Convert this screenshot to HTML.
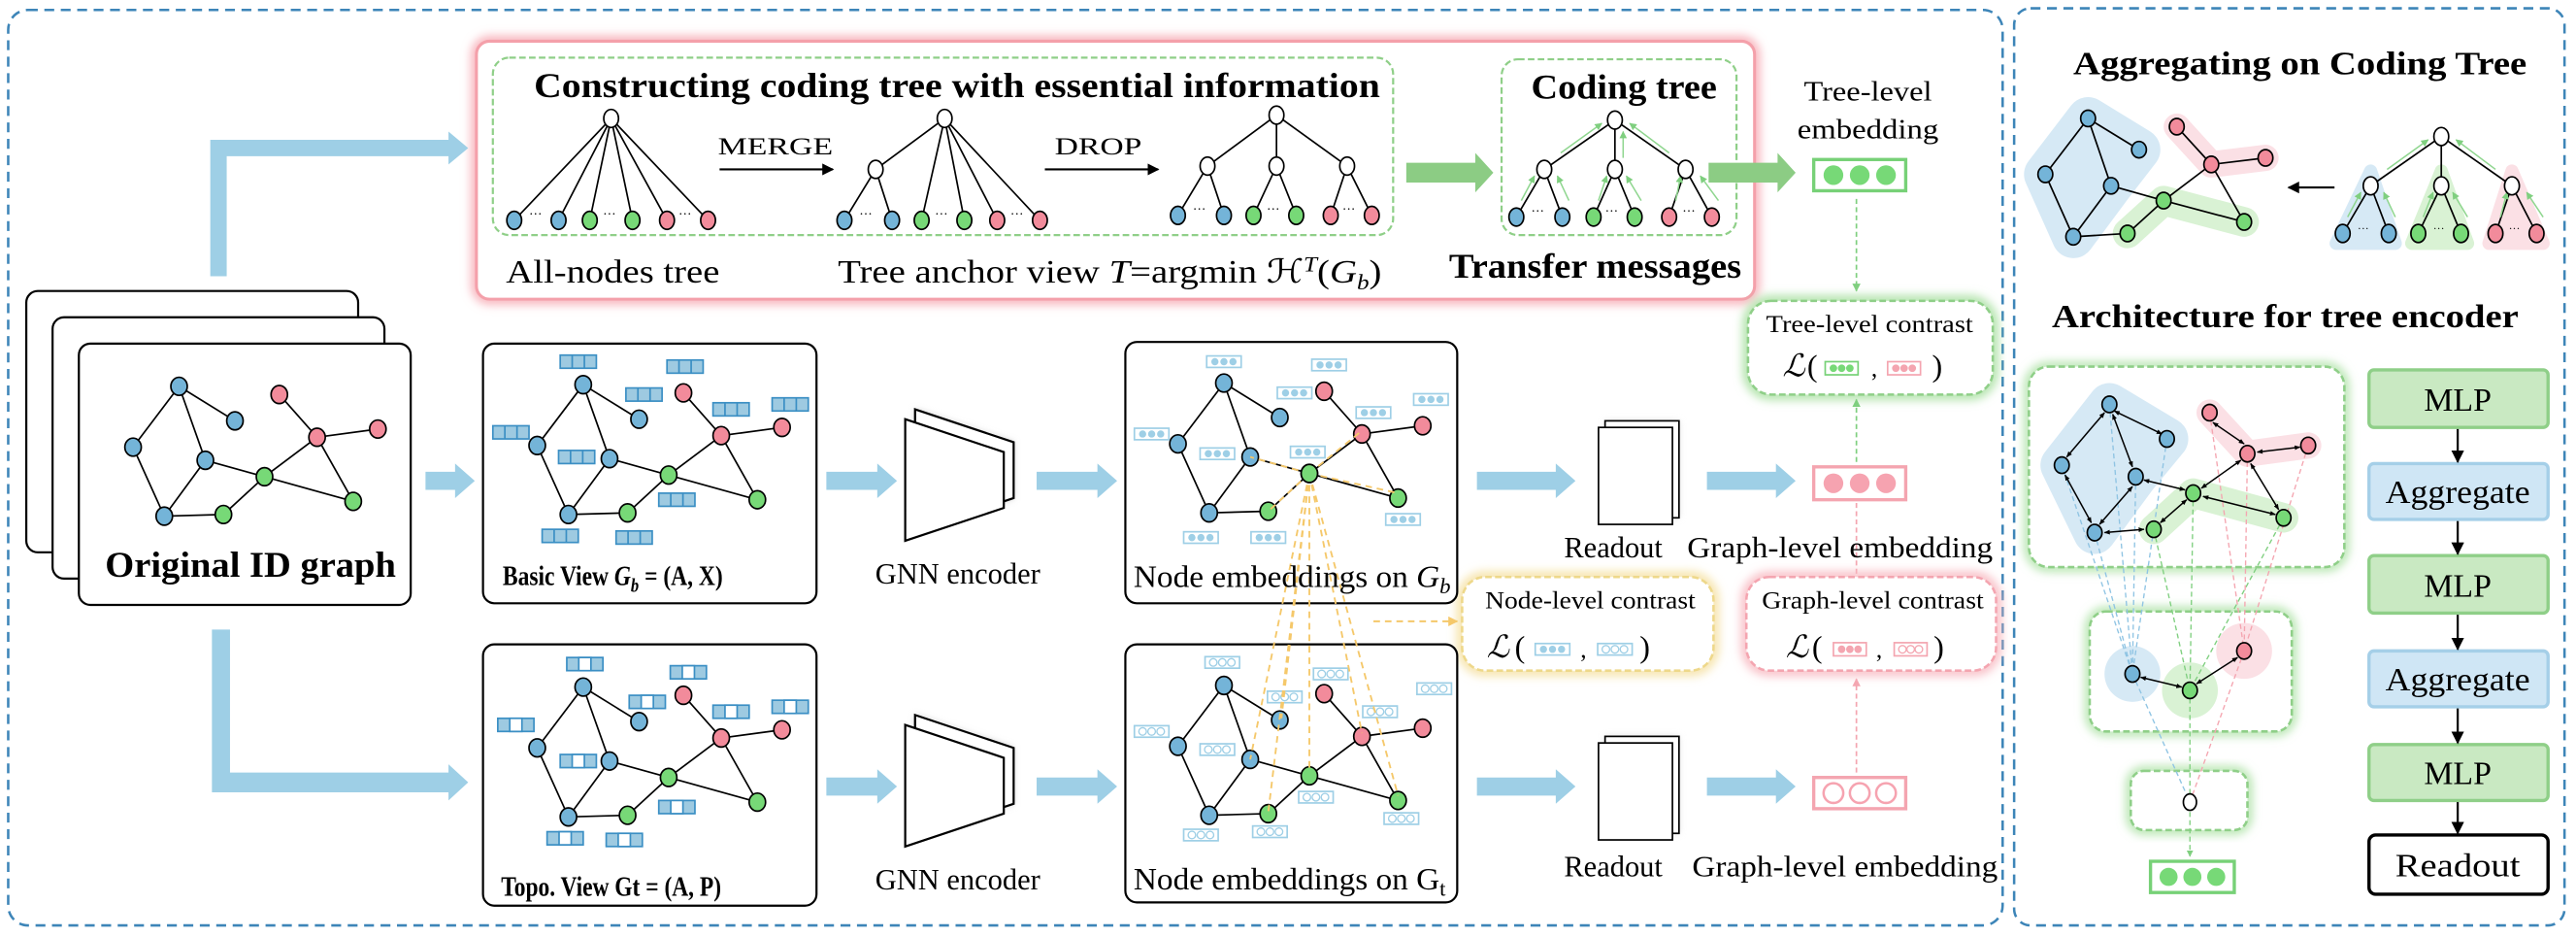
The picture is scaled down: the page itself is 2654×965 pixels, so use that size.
<!DOCTYPE html>
<html><head><meta charset="utf-8"><style>
html,body{margin:0;padding:0;background:#fff;}
svg{display:block;}
svg text, svg tspan{font-family:"Liberation Serif","Times New Roman",serif;}
</style></head><body>
<svg width="2654" height="965" viewBox="0 0 1568 570" xmlns="http://www.w3.org/2000/svg" font-family="'Liberation Serif', 'Times New Roman', serif">
<defs>
<filter id="glow" x="-20%" y="-20%" width="140%" height="140%"><feGaussianBlur stdDeviation="3"/></filter>
<filter id="shd" x="-30%" y="-30%" width="160%" height="160%"><feGaussianBlur stdDeviation="2"/></filter>
<marker id="ah" viewBox="0 0 10 10" refX="9" refY="5" markerWidth="6" markerHeight="6" orient="auto-start-reverse"><path d="M0,0 L10,5 L0,10 z" fill="#000"/></marker>
<marker id="ahs" viewBox="0 0 10 10" refX="9" refY="5" markerWidth="4" markerHeight="4" orient="auto-start-reverse"><path d="M0,1 L10,5 L0,9 z" fill="#000"/></marker>
<marker id="ahg" viewBox="0 0 10 10" refX="9" refY="5" markerWidth="5" markerHeight="5" orient="auto-start-reverse"><path d="M0,0 L10,5 L0,10 z" fill="#7fcf7f"/></marker>
<marker id="ahp" viewBox="0 0 10 10" refX="9" refY="5" markerWidth="5" markerHeight="5" orient="auto-start-reverse"><path d="M0,0 L10,5 L0,10 z" fill="#f4a5b0"/></marker>
<marker id="ahy" viewBox="0 0 10 10" refX="9" refY="5" markerWidth="5" markerHeight="5" orient="auto-start-reverse"><path d="M0,0 L10,5 L0,10 z" fill="#f5c86a"/></marker>
<g id="graph" stroke="#000" stroke-width="1">
<path d="M109,235L143,256M109,235L81,272M109,235L125,280M81,272L100,314M125,280L100,314M125,280L161,290M100,314L136,313M136,313L161,290M161,290L193,266M161,290L215,305M170,240L193,266M193,266L230,261M193,266L215,305" fill="none"/>
<g fill="#74b4d8"><ellipse cx="109" cy="235" rx="5" ry="5.5"/><ellipse cx="143" cy="256" rx="5" ry="5.5"/><ellipse cx="81" cy="272" rx="5" ry="5.5"/><ellipse cx="125" cy="280" rx="5" ry="5.5"/><ellipse cx="100" cy="314" rx="5" ry="5.5"/></g>
<g fill="#77d977"><ellipse cx="136" cy="313" rx="5" ry="5.5"/><ellipse cx="161" cy="290" rx="5" ry="5.5"/><ellipse cx="215" cy="305" rx="5" ry="5.5"/></g>
<g fill="#f28b9b"><ellipse cx="170" cy="240" rx="5" ry="5.5"/><ellipse cx="193" cy="266" rx="5" ry="5.5"/><ellipse cx="230" cy="261" rx="5" ry="5.5"/></g>
</g>
<g id="fb"><rect x="-11" y="-4" width="22" height="8" fill="#9ecae1" stroke="#3b8fc4" stroke-width="1"/><path d="M-3.7,-4V4M3.7,-4V4" stroke="#3b8fc4"/></g>
<g id="ft"><rect x="-11" y="-4" width="22" height="8" fill="#9ecae1" stroke="#3b8fc4" stroke-width="1"/><rect x="-3.7" y="-4" width="7.4" height="8" fill="#fff" stroke="#3b8fc4"/></g>
<g id="eb"><rect x="-10.5" y="-3.5" width="21" height="7" fill="#fff" stroke="#9ecfe6" stroke-width="1"/><g fill="#9ecfe6"><circle cx="-5.5" cy="0" r="2.2"/><circle cx="0" cy="0" r="2.2"/><circle cx="5.5" cy="0" r="2.2"/></g></g>
<g id="eh"><rect x="-10.5" y="-3.5" width="21" height="7" fill="#fff" stroke="#9ecfe6" stroke-width="1"/><g fill="#fff" stroke="#9ecfe6" stroke-width="0.8"><circle cx="-5.5" cy="0" r="2.3"/><circle cx="0" cy="0" r="2.3"/><circle cx="5.5" cy="0" r="2.3"/></g></g>
<g id="sg"><rect x="-10" y="-4" width="20" height="8" fill="#fff" stroke="#77d177" stroke-width="1"/><g fill="#77d977"><circle cx="-5" cy="0" r="2.3"/><circle cx="0" cy="0" r="2.3"/><circle cx="5" cy="0" r="2.3"/></g></g>
<g id="sp"><rect x="-10" y="-4" width="20" height="8" fill="#fff" stroke="#f4a5b0" stroke-width="1"/><g fill="#f4a5b0"><circle cx="-5" cy="0" r="2.3"/><circle cx="0" cy="0" r="2.3"/><circle cx="5" cy="0" r="2.3"/></g></g>
<g id="sph"><rect x="-10" y="-4" width="20" height="8" fill="#fff" stroke="#f4a5b0" stroke-width="1"/><g fill="#fff" stroke="#f4a5b0" stroke-width="0.8"><circle cx="-5" cy="0" r="2.3"/><circle cx="0" cy="0" r="2.3"/><circle cx="5" cy="0" r="2.3"/></g></g>
<g id="doc"><rect x="4" y="-4" width="45" height="59" fill="#ddd" filter="url(#shd)"/><rect x="4" y="-4" width="45" height="59" fill="#fff" stroke="#000"/><rect x="0" y="0" width="45" height="59" fill="#fff" stroke="#000"/></g>
<g id="gnn"><path d="M6,-6L66,14L66,48L6,68Z" fill="#ccc" filter="url(#shd)"/><path d="M6,-6L66,14L66,48L6,68Z" fill="#fff" stroke="#000" stroke-width="1.3"/><path d="M0,0L60,20L60,54L0,74Z" fill="#fff" stroke="#000" stroke-width="1.3"/></g>
</defs>

<rect x="5" y="6" width="1214" height="557" rx="12" fill="none" stroke="#3d85b8" stroke-width="1.5" stroke-dasharray="6,4"/>
<rect x="1226" y="5" width="335" height="558" rx="10" fill="none" stroke="#3d85b8" stroke-width="1.5" stroke-dasharray="6,4"/>

<rect x="290" y="25" width="778" height="157" rx="8" fill="none" stroke="#f7aab4" stroke-width="6" filter="url(#glow)"/>
<rect x="290" y="25" width="778" height="157" rx="8" fill="#fff" stroke="#f4a0aa" stroke-width="1.8"/>
<rect x="300" y="35" width="548" height="108" rx="10" fill="none" stroke="#8fcf88" stroke-width="1.3" stroke-dasharray="4,2"/>
<rect x="914" y="36" width="143" height="107" rx="10" fill="none" stroke="#8fcf88" stroke-width="1.3" stroke-dasharray="4,2"/>
<text x="325" y="59" font-size="21" font-weight="bold" textLength="515" lengthAdjust="spacingAndGlyphs">Constructing coding tree with essential information</text>
<text x="932" y="60" font-size="21" font-weight="bold" textLength="113" lengthAdjust="spacingAndGlyphs">Coding tree</text>
<text x="308" y="172" font-size="20" textLength="130" lengthAdjust="spacingAndGlyphs">All-nodes tree</text>
<text x="510" y="172" font-size="20" textLength="331" lengthAdjust="spacingAndGlyphs">Tree anchor view <tspan font-style="italic">T</tspan>=argmin ℋ<tspan font-size="13" dy="-7" font-style="italic">T</tspan><tspan dy="7">(</tspan><tspan font-style="italic">G<tspan font-size="13" dy="4">b</tspan></tspan><tspan dy="-4">)</tspan></text>
<text x="882" y="169" font-size="21" font-weight="bold" textLength="178" lengthAdjust="spacingAndGlyphs">Transfer messages</text>
<text x="437" y="94" font-size="15" textLength="70" lengthAdjust="spacingAndGlyphs">MERGE</text>
<line x1="438" y1="103" x2="507" y2="103" stroke="#000" stroke-width="1.2" marker-end="url(#ah)"/>
<text x="642" y="94" font-size="15" textLength="53" lengthAdjust="spacingAndGlyphs">DROP</text>
<line x1="636" y1="103" x2="705" y2="103" stroke="#000" stroke-width="1.2" marker-end="url(#ah)"/>

<g stroke="#000" stroke-width="1">
<path d="M372,72L313,134M372,72L340,134M372,72L359,134M372,72L385,134M372,72L406,134M372,72L431,134" fill="none"/>
<ellipse cx="372" cy="72" rx="4.5" ry="5.5" fill="#fff"/>
<ellipse cx="313" cy="134" rx="4.5" ry="5.5" fill="#74b4d8"/><ellipse cx="340" cy="134" rx="4.5" ry="5.5" fill="#74b4d8"/>
<ellipse cx="359" cy="134" rx="4.5" ry="5.5" fill="#77d977"/><ellipse cx="385" cy="134" rx="4.5" ry="5.5" fill="#77d977"/>
<ellipse cx="406" cy="134" rx="4.5" ry="5.5" fill="#f28b9b"/><ellipse cx="431" cy="134" rx="4.5" ry="5.5" fill="#f28b9b"/>
<path d="M575,72L533,103M533,103L514,134M533,103L543,134M575,72L561,134M575,72L587,134M575,72L607,134M575,72L633,134" fill="none"/>
<ellipse cx="575" cy="72" rx="4.5" ry="5.5" fill="#fff"/><ellipse cx="533" cy="103" rx="4.5" ry="5.5" fill="#fff"/>
<ellipse cx="514" cy="134" rx="4.5" ry="5.5" fill="#74b4d8"/><ellipse cx="543" cy="134" rx="4.5" ry="5.5" fill="#74b4d8"/>
<ellipse cx="561" cy="134" rx="4.5" ry="5.5" fill="#77d977"/><ellipse cx="587" cy="134" rx="4.5" ry="5.5" fill="#77d977"/>
<ellipse cx="607" cy="134" rx="4.5" ry="5.5" fill="#f28b9b"/><ellipse cx="633" cy="134" rx="4.5" ry="5.5" fill="#f28b9b"/>
<path d="M777,70L735,101M777,70L777,101M777,70L820,101M735,101L717,131M735,101L745,131M777,101L763,131M777,101L789,131M820,101L810,131M820,101L835,131" fill="none"/>
<ellipse cx="777" cy="70" rx="4.5" ry="5.5" fill="#fff"/><ellipse cx="735" cy="101" rx="4.5" ry="5.5" fill="#fff"/><ellipse cx="777" cy="101" rx="4.5" ry="5.5" fill="#fff"/><ellipse cx="820" cy="101" rx="4.5" ry="5.5" fill="#fff"/>
<ellipse cx="717" cy="131" rx="4.5" ry="5.5" fill="#74b4d8"/><ellipse cx="745" cy="131" rx="4.5" ry="5.5" fill="#74b4d8"/>
<ellipse cx="763" cy="131" rx="4.5" ry="5.5" fill="#77d977"/><ellipse cx="789" cy="131" rx="4.5" ry="5.5" fill="#77d977"/>
<ellipse cx="810" cy="131" rx="4.5" ry="5.5" fill="#f28b9b"/><ellipse cx="835" cy="131" rx="4.5" ry="5.5" fill="#f28b9b"/>
<path d="M983,73L940,103M983,73L983,103M983,73L1026,103M940,103L923,132M940,103L951,132M983,103L970,132M983,103L995,132M1026,103L1016,132M1026,103L1042,132" fill="none"/>
</g>
<g stroke="#8fd68f" stroke-width="0.9" fill="none" marker-end="url(#ahg)">
<line x1="950" y1="93" x2="975" y2="75"/><line x1="1016" y1="93" x2="992" y2="75"/><line x1="988" y1="96" x2="988" y2="80"/>
<line x1="926" y1="122" x2="934" y2="107"/><line x1="955" y1="122" x2="948" y2="107"/><line x1="973" y1="122" x2="978" y2="107"/><line x1="999" y1="122" x2="990" y2="107"/><line x1="1020" y1="122" x2="1023" y2="107"/><line x1="1046" y1="122" x2="1035" y2="107"/>
</g>
<g stroke="#000" stroke-width="1">
<ellipse cx="983" cy="73" rx="4.5" ry="5.5" fill="#fff"/><ellipse cx="940" cy="103" rx="4.5" ry="5.5" fill="#fff"/><ellipse cx="983" cy="103" rx="4.5" ry="5.5" fill="#fff"/><ellipse cx="1026" cy="103" rx="4.5" ry="5.5" fill="#fff"/>
<ellipse cx="923" cy="132" rx="4.5" ry="5.5" fill="#74b4d8"/><ellipse cx="951" cy="132" rx="4.5" ry="5.5" fill="#74b4d8"/>
<ellipse cx="970" cy="132" rx="4.5" ry="5.5" fill="#77d977"/><ellipse cx="995" cy="132" rx="4.5" ry="5.5" fill="#77d977"/>
<ellipse cx="1016" cy="132" rx="4.5" ry="5.5" fill="#f28b9b"/><ellipse cx="1042" cy="132" rx="4.5" ry="5.5" fill="#f28b9b"/>
</g>
<g font-size="8">
<text x="322" y="133">···</text><text x="367" y="133">···</text><text x="413" y="133">···</text>
<text x="523" y="133">···</text><text x="569" y="133">···</text><text x="615" y="133">···</text>
<text x="726" y="130">···</text><text x="771" y="130">···</text><text x="817" y="130">···</text>
<text x="932" y="131">···</text><text x="977" y="131">···</text><text x="1024" y="131">···</text>
</g>

<path d="M856,99H898V93L909,105L898,117V111H856Z" fill="#8ccc84"/>
<path d="M1040,99H1082V93L1093,105L1082,117V111H1040Z" fill="#8ccc84"/>

<text x="1137" y="61" font-size="17" text-anchor="middle" textLength="78" lengthAdjust="spacingAndGlyphs">Tree-level</text>
<text x="1137" y="84" font-size="17" text-anchor="middle" textLength="86" lengthAdjust="spacingAndGlyphs">embedding</text>
<rect x="1104" y="97" width="56" height="19" fill="#fff" stroke="#77d177" stroke-width="2"/>
<g fill="#77d977"><circle cx="1116" cy="106.5" r="6"/><circle cx="1132" cy="106.5" r="6"/><circle cx="1148" cy="106.5" r="6"/></g>
<line x1="1130" y1="121" x2="1130" y2="177" stroke="#7fcf7f" stroke-width="1" stroke-dasharray="3,2" marker-end="url(#ahg)"/>

<rect x="1064" y="183" width="149" height="57" rx="14" fill="none" stroke="#a8e0a0" stroke-width="6" filter="url(#glow)"/>
<rect x="1064" y="183" width="149" height="57" rx="14" fill="#fff" stroke="#8fcf88" stroke-width="1.5" stroke-dasharray="4,2"/>
<text x="1138" y="202" font-size="15" text-anchor="middle" textLength="126" lengthAdjust="spacingAndGlyphs">Tree-level contrast</text>
<text x="1085" y="229" font-size="19" font-style="italic">ℒ</text><text x="1100" y="229" font-size="19">(</text>
<use href="#sg" x="1121" y="224"/><text x="1139" y="229" font-size="15">,</text><use href="#sp" x="1159" y="224"/><text x="1176" y="229" font-size="19">)</text>
<line x1="1130" y1="281" x2="1130" y2="243" stroke="#7fcf7f" stroke-width="1" stroke-dasharray="3,2" marker-end="url(#ahg)"/>

<rect x="1104" y="284" width="56" height="20" fill="#fff" stroke="#f4a5b0" stroke-width="2"/>
<g fill="#f6a3b0"><circle cx="1116" cy="294" r="6"/><circle cx="1132" cy="294" r="6"/><circle cx="1148" cy="294" r="6"/></g>
<line x1="1130" y1="306" x2="1130" y2="349" stroke="#f4a5b0" stroke-width="1" stroke-dasharray="3,2"/>
<rect x="1104" y="473" width="56" height="19" fill="#fff" stroke="#f4a5b0" stroke-width="2"/>
<g fill="#fff" stroke="#f6a3b0" stroke-width="1.5"><circle cx="1116" cy="482.5" r="6"/><circle cx="1132" cy="482.5" r="6"/><circle cx="1148" cy="482.5" r="6"/></g>
<line x1="1130" y1="470" x2="1130" y2="413" stroke="#f4a5b0" stroke-width="1" stroke-dasharray="3,2" marker-end="url(#ahp)"/>

<rect x="1063" y="351" width="152" height="57" rx="14" fill="none" stroke="#f8b8c0" stroke-width="6" filter="url(#glow)"/>
<rect x="1063" y="351" width="152" height="57" rx="14" fill="#fff" stroke="#f4a5b0" stroke-width="1.5" stroke-dasharray="4,2"/>
<text x="1140" y="370" font-size="15" text-anchor="middle" textLength="135" lengthAdjust="spacingAndGlyphs">Graph-level contrast</text>
<text x="1087" y="400" font-size="19" font-style="italic">ℒ</text><text x="1103" y="400" font-size="19">(</text>
<use href="#sp" x="1126" y="395"/><text x="1142" y="400" font-size="15">,</text><use href="#sph" x="1163" y="395"/><text x="1177" y="400" font-size="19">)</text>

<rect x="890" y="351" width="153" height="57" rx="14" fill="none" stroke="#f5e0a0" stroke-width="6" filter="url(#glow)"/>
<rect x="890" y="351" width="153" height="57" rx="14" fill="#fff" stroke="#eed88a" stroke-width="1.5" stroke-dasharray="4,2"/>
<text x="904" y="370" font-size="15" textLength="128" lengthAdjust="spacingAndGlyphs">Node-level contrast</text>
<text x="905" y="400" font-size="19" font-style="italic">ℒ</text><text x="922" y="400" font-size="19">(</text>
<use href="#eb" x="945" y="395"/><text x="962" y="400" font-size="15">,</text><use href="#eh" x="983" y="395"/><text x="998" y="400" font-size="19">)</text>
<line x1="836" y1="378" x2="887" y2="378" stroke="#f5c86a" stroke-width="1.2" stroke-dasharray="4,3" marker-end="url(#ahy)"/>

<rect x="16" y="177" width="202" height="159" rx="7" fill="#fff" stroke="#000" stroke-width="1.3"/>
<rect x="32" y="193" width="202" height="159" rx="7" fill="#fff" stroke="#000" stroke-width="1.3"/>
<rect x="48" y="209" width="202" height="159" rx="7" fill="#fff" stroke="#000" stroke-width="1.3"/>
<use href="#graph"/>
<text x="64" y="351" font-size="22" font-weight="bold" textLength="177" lengthAdjust="spacingAndGlyphs">Original ID graph</text>

<path d="M128,168V85H273V80L285,90L273,100V95H138V168Z" fill="#9ecfe6"/>
<path d="M129,383V482H273V487L285,476L273,465V470H140V383Z" fill="#9ecfe6"/>

<rect x="294" y="209" width="203" height="158" rx="7" fill="#fff" stroke="#000" stroke-width="1.3"/>
<use href="#graph" transform="translate(246,-1)"/>
<use href="#fb" x="352" y="220"/><use href="#fb" x="417" y="223"/><use href="#fb" x="392" y="240"/><use href="#fb" x="311" y="263"/><use href="#fb" x="351" y="278"/><use href="#fb" x="412" y="304"/><use href="#fb" x="341" y="326"/><use href="#fb" x="386" y="327"/><use href="#fb" x="445" y="249"/><use href="#fb" x="481" y="246"/>
<text x="306" y="356" font-size="17" font-weight="bold" textLength="134" lengthAdjust="spacingAndGlyphs">Basic View <tspan font-style="italic">G<tspan font-size="12" dy="4">b</tspan></tspan><tspan dy="-4"> = (A, X)</tspan></text>

<rect x="294" y="392" width="203" height="159" rx="7" fill="#fff" stroke="#000" stroke-width="1.3"/>
<use href="#graph" transform="translate(246,183)"/>
<use href="#ft" x="356" y="404"/><use href="#ft" x="419" y="409"/><use href="#ft" x="394" y="427"/><use href="#ft" x="314" y="441"/><use href="#ft" x="352" y="463"/><use href="#ft" x="412" y="491"/><use href="#ft" x="344" y="510"/><use href="#ft" x="380" y="511"/><use href="#ft" x="445" y="433"/><use href="#ft" x="481" y="430"/>
<text x="305" y="545" font-size="17" font-weight="bold" textLength="134" lengthAdjust="spacingAndGlyphs">Topo. View Gt = (A, P)</text>

<g fill="#9ecfe6">
<path d="M259,287H277V282L289,292.5L277,303V298H259Z"/>
<path d="M503,287H534V282L546,292.5L534,303V298H503Z"/>
<path d="M631,287H668V282L680,292.5L668,303V298H631Z"/>
<path d="M899,287H947V282L959,292.5L947,303V298H899Z"/>
<path d="M1039,287H1081V282L1093,292.5L1081,303V298H1039Z"/>
<path d="M503,473H534V468L546,478.5L534,489V484H503Z"/>
<path d="M631,473H668V468L680,478.5L668,489V484H631Z"/>
<path d="M899,473H947V468L959,478.5L947,489V484H899Z"/>
<path d="M1039,473H1081V468L1093,478.5L1081,489V484H1039Z"/>
</g>

<use href="#gnn" transform="translate(551,255)"/>
<use href="#gnn" transform="translate(551,441)"/>
<text x="583" y="355" font-size="18" text-anchor="middle">GNN encoder</text>
<text x="583" y="541" font-size="18" text-anchor="middle">GNN encoder</text>

<rect x="685" y="208" width="202" height="159" rx="7" fill="#fff" stroke="#000" stroke-width="1.3"/>
<rect x="685" y="392" width="202" height="157" rx="7" fill="#fff" stroke="#000" stroke-width="1.3"/>
<use href="#graph" transform="translate(636,-2)"/>
<use href="#graph" transform="translate(636,182)"/>
<use href="#eb" x="745" y="220"/><use href="#eb" x="809" y="222"/><use href="#eb" x="788" y="239"/><use href="#eb" x="871" y="243"/><use href="#eb" x="836" y="251"/><use href="#eb" x="701" y="264"/><use href="#eb" x="741" y="276"/><use href="#eb" x="796" y="275"/><use href="#eb" x="854" y="316"/><use href="#eb" x="731" y="327"/><use href="#eb" x="772" y="327"/>
<use href="#eh" x="744" y="403"/><use href="#eh" x="810" y="410"/><use href="#eh" x="782" y="424"/><use href="#eh" x="873" y="419"/><use href="#eh" x="840" y="433"/><use href="#eh" x="701" y="445"/><use href="#eh" x="741" y="456"/><use href="#eh" x="801" y="485"/><use href="#eh" x="853" y="498"/><use href="#eh" x="731" y="508"/><use href="#eh" x="773" y="506"/>
<g stroke="#f5c86a" stroke-width="1.1" stroke-dasharray="4,3" fill="none">
<path d="M797,288L761,278M797,288L772,311M797,288L829,262M797,288L851,300M797,288L761,462M797,288L780,437M797,288L797,470M797,288L772,494M797,288L829,446M797,288L851,484"/>
</g>
<ellipse cx="797" cy="288" rx="5" ry="5.5" fill="#77d977" stroke="#000"/>
<text x="690" y="357" font-size="19" textLength="193" lengthAdjust="spacingAndGlyphs">Node embeddings on <tspan font-style="italic">G<tspan font-size="13" dy="4">b</tspan></tspan></text>
<text x="690" y="541" font-size="19" textLength="190" lengthAdjust="spacingAndGlyphs">Node embeddings on G<tspan font-size="13" dy="4">t</tspan></text>

<use href="#doc" x="973" y="260"/>
<use href="#doc" x="973" y="452"/>
<text x="982" y="339" font-size="18" text-anchor="middle">Readout</text>
<text x="1120" y="339" font-size="18" text-anchor="middle" textLength="186" lengthAdjust="spacingAndGlyphs">Graph-level embedding</text>
<text x="982" y="533" font-size="18" text-anchor="middle">Readout</text>
<text x="1123" y="533" font-size="18" text-anchor="middle" textLength="186" lengthAdjust="spacingAndGlyphs">Graph-level embedding</text>

<text x="1262" y="45" font-size="20" font-weight="bold" textLength="276" lengthAdjust="spacingAndGlyphs">Aggregating on Coding Tree</text>
<g stroke-linejoin="round" stroke-linecap="round">
<path d="M1271,72L1302,91L1285,113L1262,144L1245,106Z" fill="#d6e9f5" stroke="#d6e9f5" stroke-width="26"/>
<path d="M1295,142L1317,122L1366,135" fill="none" stroke="#d9f2d4" stroke-width="18"/>
<path d="M1325,77L1346,100L1379,96" fill="none" stroke="#fbe0e5" stroke-width="16"/>
</g>
<g stroke="#000" stroke-width="1">
<path d="M1271,72L1302,91M1271,72L1245,106M1271,72L1285,113M1245,106L1262,144M1285,113L1262,144M1285,113L1317,122M1262,144L1295,142M1295,142L1317,122M1317,122L1346,100M1317,122L1366,135M1325,77L1346,100M1346,100L1379,96M1346,100L1366,135" fill="none"/>
<g fill="#74b4d8"><ellipse cx="1271" cy="72" rx="4.5" ry="5"/><ellipse cx="1302" cy="91" rx="4.5" ry="5"/><ellipse cx="1245" cy="106" rx="4.5" ry="5"/><ellipse cx="1285" cy="113" rx="4.5" ry="5"/><ellipse cx="1262" cy="144" rx="4.5" ry="5"/></g>
<g fill="#77d977"><ellipse cx="1295" cy="142" rx="4.5" ry="5"/><ellipse cx="1317" cy="122" rx="4.5" ry="5"/><ellipse cx="1366" cy="135" rx="4.5" ry="5"/></g>
<g fill="#f28b9b"><ellipse cx="1325" cy="77" rx="4.5" ry="5"/><ellipse cx="1346" cy="100" rx="4.5" ry="5"/><ellipse cx="1379" cy="96" rx="4.5" ry="5"/></g>
</g>
<line x1="1421" y1="114" x2="1393" y2="114" stroke="#000" stroke-width="1.2" marker-end="url(#ah)"/>
<path d="M1443,104L1422,148L1458,148Z" fill="#d6e9f5" stroke="#d6e9f5" stroke-width="8" stroke-linejoin="round"/>
<path d="M1486,104L1468,148L1502,148Z" fill="#d9f2d4" stroke="#d9f2d4" stroke-width="8" stroke-linejoin="round"/>
<path d="M1529,104L1515,148L1548,148Z" fill="#fbe0e5" stroke="#fbe0e5" stroke-width="8" stroke-linejoin="round"/>
<g stroke="#000" stroke-width="1">
<path d="M1486,83L1443,113M1486,83L1486,113M1486,83L1529,113M1443,113L1426,142M1443,113L1454,142M1486,113L1472,142M1486,113L1498,142M1529,113L1519,142M1529,113L1544,142" fill="none"/>
</g>
<g stroke="#8fd68f" stroke-width="0.9" fill="none" marker-end="url(#ahg)">
<line x1="1453" y1="103" x2="1478" y2="85"/><line x1="1519" y1="103" x2="1495" y2="85"/>
<line x1="1429" y1="132" x2="1437" y2="117"/><line x1="1458" y1="132" x2="1451" y2="117"/><line x1="1475" y1="132" x2="1481" y2="117"/><line x1="1502" y1="132" x2="1493" y2="117"/><line x1="1522" y1="132" x2="1526" y2="117"/><line x1="1548" y1="132" x2="1538" y2="117"/>
</g>
<g stroke="#000" stroke-width="1">
<ellipse cx="1486" cy="83" rx="4.5" ry="5.5" fill="#fff"/><ellipse cx="1443" cy="113" rx="4.5" ry="5.5" fill="#fff"/><ellipse cx="1486" cy="113" rx="4.5" ry="5.5" fill="#fff"/><ellipse cx="1529" cy="113" rx="4.5" ry="5.5" fill="#fff"/>
<ellipse cx="1426" cy="142" rx="4.5" ry="5.5" fill="#74b4d8"/><ellipse cx="1454" cy="142" rx="4.5" ry="5.5" fill="#74b4d8"/>
<ellipse cx="1472" cy="142" rx="4.5" ry="5.5" fill="#77d977"/><ellipse cx="1498" cy="142" rx="4.5" ry="5.5" fill="#77d977"/>
<ellipse cx="1519" cy="142" rx="4.5" ry="5.5" fill="#f28b9b"/><ellipse cx="1544" cy="142" rx="4.5" ry="5.5" fill="#f28b9b"/>
</g>
<g font-size="7"><text x="1435" y="141">···</text><text x="1481" y="141">···</text><text x="1527" y="141">···</text></g>

<text x="1249" y="199" font-size="20" font-weight="bold" textLength="284" lengthAdjust="spacingAndGlyphs">Architecture for tree encoder</text>

<rect x="1235" y="223" width="192" height="122" rx="12" fill="none" stroke="#a8e0a0" stroke-width="5" filter="url(#glow)"/>
<rect x="1235" y="223" width="192" height="122" rx="12" fill="#fff" stroke="#8fcf88" stroke-width="1.5" stroke-dasharray="4,2"/>
<rect x="1272" y="372" width="123" height="73" rx="10" fill="none" stroke="#a8e0a0" stroke-width="5" filter="url(#glow)"/>
<rect x="1272" y="372" width="123" height="73" rx="10" fill="#fff" stroke="#8fcf88" stroke-width="1.5" stroke-dasharray="4,2"/>
<rect x="1297" y="469" width="71" height="36" rx="8" fill="none" stroke="#a8e0a0" stroke-width="5" filter="url(#glow)"/>
<rect x="1297" y="469" width="71" height="36" rx="8" fill="#fff" stroke="#8fcf88" stroke-width="1.5" stroke-dasharray="4,2"/>

<g stroke-linejoin="round" stroke-linecap="round">
<path d="M1284,246L1319,267L1300,290L1275,324L1255,283Z" fill="#d6e9f5" stroke="#d6e9f5" stroke-width="26"/>
<path d="M1311,322L1335,300L1390,315" fill="none" stroke="#d9f2d4" stroke-width="18"/>
<path d="M1345,251L1368,276L1405,271" fill="none" stroke="#fbe0e5" stroke-width="16"/>
</g>
<circle cx="1298" cy="410" r="17" fill="#d6e9f5"/><circle cx="1333" cy="420" r="17" fill="#d9f2d4"/><circle cx="1366" cy="396" r="17" fill="#fbe0e5"/>
<g stroke-width="0.8" stroke-dasharray="3,2" fill="none">
<path d="M1284,246L1298,410M1319,267L1298,410M1255,283L1298,410M1300,290L1298,410M1275,324L1298,410M1298,410L1333,488" stroke="#8fc4e3"/>
<path d="M1311,322L1333,420M1335,300L1333,420M1390,315L1333,420M1333,420L1333,488" stroke="#7fcf7f"/>
<path d="M1345,251L1366,396M1368,276L1366,396M1405,271L1366,396M1366,396L1333,488" stroke="#f4a5b0"/>
<path d="M1333,494L1333,521" stroke="#7fcf7f" marker-end="url(#ahg)"/>
</g>
<g stroke="#000" stroke-width="0.9" marker-start="url(#ahs)" marker-end="url(#ahs)">
<line x1="1287" y1="250" x2="1316" y2="264"/><line x1="1281" y1="251" x2="1258" y2="278"/><line x1="1286" y1="252" x2="1298" y2="284"/>
<line x1="1257" y1="289" x2="1273" y2="318"/><line x1="1298" y1="296" x2="1278" y2="319"/><line x1="1305" y1="292" x2="1330" y2="298"/>
<line x1="1281" y1="324" x2="1305" y2="322"/><line x1="1315" y1="318" x2="1331" y2="304"/><line x1="1340" y1="297" x2="1364" y2="280"/>
<line x1="1341" y1="302" x2="1385" y2="313"/><line x1="1347" y1="257" x2="1366" y2="270"/><line x1="1374" y1="275" x2="1400" y2="272"/>
<line x1="1370" y1="282" x2="1387" y2="310"/>
<line x1="1303" y1="412" x2="1328" y2="418"/><line x1="1337" y1="416" x2="1362" y2="400"/>
</g>
<g stroke="#000" stroke-width="1">
<g fill="#74b4d8"><ellipse cx="1284" cy="246" rx="4.5" ry="5"/><ellipse cx="1319" cy="267" rx="4.5" ry="5"/><ellipse cx="1255" cy="283" rx="4.5" ry="5"/><ellipse cx="1300" cy="290" rx="4.5" ry="5"/><ellipse cx="1275" cy="324" rx="4.5" ry="5"/><ellipse cx="1298" cy="410" rx="4.5" ry="5"/></g>
<g fill="#77d977"><ellipse cx="1311" cy="322" rx="4.5" ry="5"/><ellipse cx="1335" cy="300" rx="4.5" ry="5"/><ellipse cx="1390" cy="315" rx="4.5" ry="5"/><ellipse cx="1333" cy="420" rx="4.5" ry="5"/></g>
<g fill="#f28b9b"><ellipse cx="1345" cy="251" rx="4.5" ry="5"/><ellipse cx="1368" cy="276" rx="4.5" ry="5"/><ellipse cx="1405" cy="271" rx="4.5" ry="5"/><ellipse cx="1366" cy="396" rx="4.5" ry="5"/></g>
<ellipse cx="1333" cy="488" rx="4" ry="5" fill="#fff"/>
</g>
<rect x="1309" y="524" width="51" height="19" fill="#fff" stroke="#77d177" stroke-width="2"/>
<g fill="#77d977"><circle cx="1320" cy="533.5" r="5.5"/><circle cx="1334.5" cy="533.5" r="5.5"/><circle cx="1349" cy="533.5" r="5.5"/></g>

<g font-size="20" text-anchor="middle">
<rect x="1442" y="225" width="109" height="35" rx="3" fill="#c9e9c2" stroke="#8fcf88" stroke-width="2"/><text x="1496" y="250">MLP</text>
<rect x="1442" y="282" width="109" height="34" rx="3" fill="#cfe6f5" stroke="#a5cfe8" stroke-width="2"/><text x="1496" y="306" textLength="88" lengthAdjust="spacingAndGlyphs">Aggregate</text>
<rect x="1442" y="338" width="109" height="35" rx="3" fill="#c9e9c2" stroke="#8fcf88" stroke-width="2"/><text x="1496" y="363">MLP</text>
<rect x="1442" y="396" width="109" height="34" rx="3" fill="#cfe6f5" stroke="#a5cfe8" stroke-width="2"/><text x="1496" y="420" textLength="88" lengthAdjust="spacingAndGlyphs">Aggregate</text>
<rect x="1442" y="453" width="109" height="34" rx="3" fill="#c9e9c2" stroke="#8fcf88" stroke-width="2"/><text x="1496" y="477">MLP</text>
<rect x="1442" y="508" width="109" height="36" rx="4" fill="#fff" stroke="#000" stroke-width="2"/><text x="1496" y="533" textLength="76" lengthAdjust="spacingAndGlyphs">Readout</text>
</g>
<g stroke="#000" stroke-width="1.3" marker-end="url(#ah)">
<line x1="1496" y1="261" x2="1496" y2="281"/><line x1="1496" y1="317" x2="1496" y2="337"/><line x1="1496" y1="374" x2="1496" y2="395"/><line x1="1496" y1="431" x2="1496" y2="452"/><line x1="1496" y1="488" x2="1496" y2="507"/>
</g>
</svg>
</body></html>
